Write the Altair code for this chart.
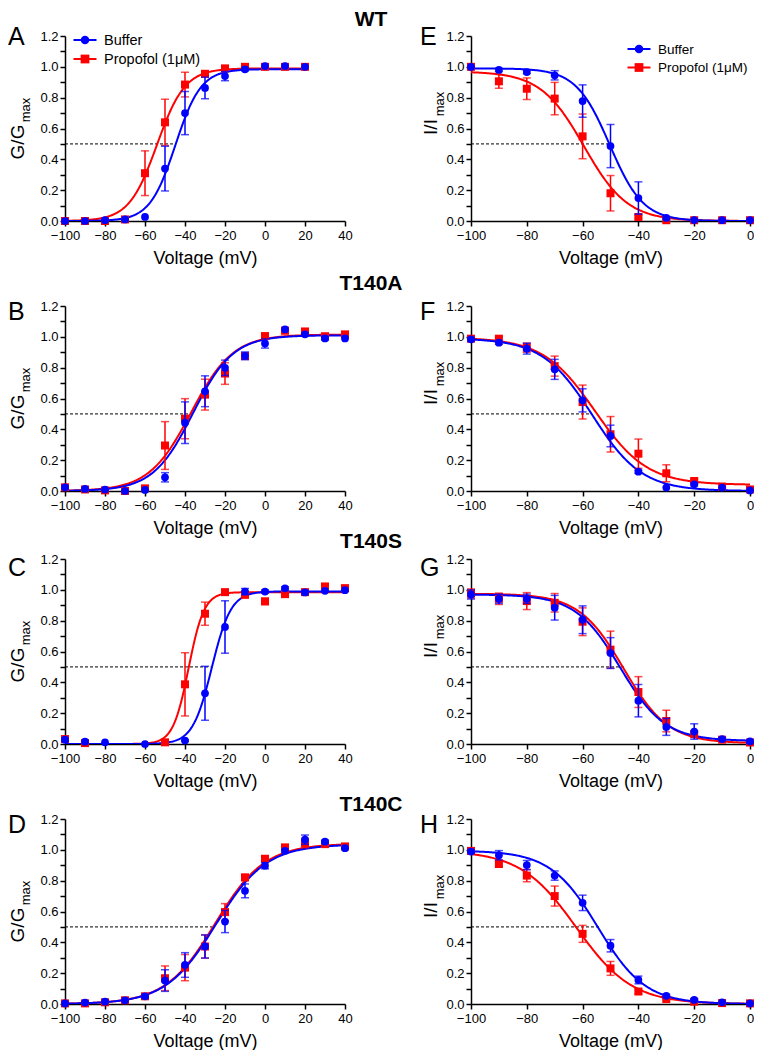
import altair as alt
import numpy as np
import pandas as pd

FONT = "Liberation Sans"
SERIES = ["Buffer", "Propofol (1μM)"]
COLORS = ["#0000ff", "#ff0000"]

# ---------------- data ----------------
V_ACT = [-100, -90, -80, -70, -60, -50, -40, -30, -20, -10, 0, 10, 20, 30, 40]
V_WT_ACT = [-100, -90, -80, -70, -60, -50, -40, -30, -20, -10, 0, 10, 20]
V_INACT = [-100, -90, -80, -70, -60, -50, -40, -30, -20, -10, 0]

# A  WT activation
A_buf = [0.0, 0.0, 0.005, 0.01, 0.026, 0.34, 0.70, 0.863, 0.94, 0.984, 1.005, 1.005, 1.0]
A_buf_err = [0, 0, 0, 0, 0, 0.145, 0.14, 0.07, 0.03, 0.01, 0, 0, 0]
A_pro = [0.0, 0.0, 0.0, 0.01, 0.31, 0.64, 0.885, 0.955, 0.99, 1.0, 1.0, 1.0, 1.0]
A_pro_err = [0, 0, 0, 0, 0.145, 0.15, 0.08, 0.015, 0.01, 0, 0, 0, 0]
# E  WT inactivation
E_buf = [0.999, 0.98, 0.966, 0.945, 0.778, 0.486, 0.149, 0.02, 0.006, 0.005, 0.005]
E_buf_err = [0, 0.01, 0.01, 0.03, 0.105, 0.14, 0.105, 0.01, 0, 0, 0]
E_pro = [1.0, 0.906, 0.858, 0.794, 0.549, 0.18, 0.026, 0.005, 0.005, 0.005, 0.005]
E_pro_err = [0, 0.045, 0.07, 0.105, 0.145, 0.115, 0.01, 0, 0, 0, 0]
# B  T140A activation
B_buf = [0.024, 0.013, 0.009, 0.0, 0.007, 0.089, 0.443, 0.647, 0.799, 0.877, 0.957, 1.048, 1.016, 0.99, 0.99]
B_buf_err = [0.01, 0, 0, 0, 0, 0.03, 0.135, 0.1, 0.05, 0.025, 0.03, 0, 0.01, 0.01, 0]
B_pro = [0.024, 0.01, 0.004, 0.0, 0.017, 0.295, 0.469, 0.625, 0.762, 0.875, 1.005, 1.04, 1.035, 1.004, 1.016]
B_pro_err = [0, 0, 0, 0, 0.01, 0.155, 0.13, 0.1, 0.07, 0.02, 0.01, 0.02, 0.01, 0, 0]
# F  T140A inactivation
F_buf = [0.984, 0.962, 0.923, 0.789, 0.588, 0.357, 0.125, 0.022, 0.043, 0.022, 0.004]
F_buf_err = [0.01, 0.01, 0.035, 0.065, 0.075, 0.07, 0.01, 0, 0.01, 0, 0]
F_pro = [0.988, 0.988, 0.93, 0.81, 0.577, 0.368, 0.242, 0.115, 0.065, 0.028, 0.01]
F_pro_err = [0.01, 0.01, 0.03, 0.065, 0.11, 0.115, 0.095, 0.055, 0.01, 0, 0]
# C  T140S activation
C_buf = [0.028, 0.015, 0.011, None, 0.0, None, 0.022, 0.329, 0.759, 0.989, 0.989, 1.01, 0.983, 0.994, 0.998]
C_buf_err = [0.01, 0, 0, None, 0, None, 0.005, 0.175, 0.17, 0.02, 0.01, 0.01, 0.01, 0, 0]
C_pro = [0.032, 0.006, None, None, None, 0.011, 0.387, 0.845, 0.985, 0.968, 0.925, 0.972, 0.985, 1.022, 1.011]
C_pro_err = [0.01, 0, None, None, None, 0.01, 0.205, 0.075, 0.01, 0.02, 0.02, 0.015, 0.01, 0.01, 0.01]
# G  T140S inactivation
G_buf = [0.97, 0.942, 0.942, 0.884, 0.806, 0.59, 0.281, 0.111, 0.081, 0.032, 0.017]
G_buf_err = [0.03, 0.03, 0.03, 0.08, 0.09, 0.1, 0.105, 0.055, 0.05, 0.01, 0.01]
G_pro = [0.976, 0.942, 0.927, 0.916, 0.793, 0.612, 0.337, 0.149, 0.064, 0.028, 0.01]
G_pro_err = [0.03, 0.037, 0.055, 0.06, 0.09, 0.12, 0.1, 0.07, 0.015, 0.005, 0.005]
# D  T140C activation
D_buf = [0.004, 0.009, 0.015, 0.024, 0.05, 0.152, 0.253, 0.373, 0.535, 0.734, 0.897, 0.994, 1.066, 1.053, 1.011]
D_buf_err = [0, 0, 0, 0, 0.01, 0.07, 0.08, 0.075, 0.072, 0.045, 0.02, 0.01, 0.03, 0.01, 0]
D_pro = [0.004, 0.004, 0.011, 0.024, 0.05, 0.167, 0.236, 0.373, 0.596, 0.821, 0.942, 1.016, 1.044, 1.037, 1.022]
D_pro_err = [0, 0, 0, 0, 0.01, 0.08, 0.085, 0.075, 0.055, 0.02, 0.02, 0.01, 0.03, 0.015, 0.01]
# H  T140C inactivation
H_buf = [0.989, 0.965, 0.901, 0.833, 0.656, 0.378, 0.156, 0.053, 0.026, 0.011, 0.004]
H_buf_err = [0.01, 0.03, 0.03, 0.03, 0.05, 0.04, 0.025, 0.01, 0.005, 0, 0]
H_pro = [0.993, 0.908, 0.833, 0.70, 0.455, 0.231, 0.081, 0.032, 0.015, 0.006, 0.004]
H_pro_err = [0, 0.015, 0.04, 0.065, 0.055, 0.045, 0.015, 0.005, 0, 0, 0]

# Boltzmann fit parameters: (V1/2, slope, top, bottom)
FIT_A = [(-44.8, -6.4, 0.985, 0.0), (-54.0, -7.0, 0.99, 0.0)]
FIT_E = [(-50.3, 6.0, 0.99, 0.0), (-59.5, 7.8, 0.97, 0.0)]
FIT_B = [(-36.0, -10.0, 1.01, 0.0), (-37.0, -10.5, 1.015, 0.0)]
FIT_F = [(-56.6, 8.9, 0.99, 0.0), (-55.5, 9.3, 0.995, 0.04)]
FIT_C = [(-26.6, -4.8, 0.99, 0.0), (-38.2, -3.9, 0.985, 0.0)]
FIT_G = [(-46.5, 8.0, 0.97, 0.02), (-45.3, 8.0, 0.975, 0.005)]
FIT_D = [(-24.5, -12.5, 1.035, 0.0), (-25.0, -12.4, 1.04, 0.0)]
FIT_H = [(-54.5, 8.5, 0.995, 0.0), (-62.3, 10.0, 0.995, 0.0)]

DASH_END = {"A": -44.7, "B": -36.6, "C": -27.3, "D": -26.5,
            "E": -50.0, "F": -56.8, "G": -45.2, "H": -53.8}

ROW_TITLES = ["WT", "T140A", "T140S", "T140C"]
ACT_TICKS = [-100, -80, -60, -40, -20, 0, 20, 40]
INACT_TICKS = [-100, -80, -60, -40, -20, 0]
Y_TICKS = [0.0, 0.1, 0.2, 0.3, 0.4, 0.5, 0.6, 0.7, 0.8, 0.9, 1.0, 1.1, 1.2]

SHAPES = {SERIES[0]: ("circle", 60), SERIES[1]: ("square", 64)}

H = 185
ROW_GAPS = [85, 68, 75]
LETTER_DY = [9, 13.5, 16.5, 14]
ROW_TITLE_DY = [-10, -16, -11, -8]


def make_panel(V, buf, buf_err, pro, pro_err, fits, letter, x_domain, x_ticks,
               width, left, row, legend_at=None):
    rows = []
    for s, vals, errs in ((SERIES[0], buf, buf_err), (SERIES[1], pro, pro_err)):
        for v, y, e in zip(V, vals, errs):
            if y is None:
                continue
            e = e or 0
            rows.append(dict(V=v, val=y, err=e, lo=y - e, hi=y + e, series=s))
    pts = pd.DataFrame(rows)

    grid = np.linspace(min(V), max(V), 300)
    crows = []
    for s, (vh, k, top, bot) in zip(SERIES, fits):
        c = bot + (top - bot) / (1 + np.exp((grid - vh) / k))
        crows += [dict(V=float(g), val=float(y), series=s) for g, y in zip(grid, c)]
    curves = pd.DataFrame(crows)

    xs = alt.Scale(domain=x_domain, nice=False, zero=False)
    ys = alt.Scale(domain=[0, 1.2], nice=False, zero=False)
    cs = alt.Scale(domain=SERIES, range=COLORS)
    ax_common = dict(domainColor="black", domainWidth=1.5, tickColor="black", tickWidth=1.5,
                     tickSize=5, labelColor="black", labelFont=FONT, labelFontSize=13,
                     grid=False, labelOverlap=False, labelFlush=False)
    xaxis = alt.Axis(values=x_ticks, title="Voltage (mV)", titleY=42, titleBaseline="alphabetic",
                     titleFont=FONT, titleFontSize=18, titleFontWeight="normal", titleColor="black",
                     labelPadding=3, **ax_common)
    yaxis = alt.Axis(values=Y_TICKS, title=None, labelPadding=2,
                     labelExpr="(round(datum.value*10) % 2 == 0) ? format(datum.value, '.1f') : ''",
                     **ax_common)
    X = alt.X("V:Q", scale=xs, axis=xaxis)
    Y = alt.Y("val:Q", scale=ys, axis=yaxis)
    col = alt.Color("series:N", scale=cs, legend=None)

    layers = []
    dash = pd.DataFrame({"x0": [x_domain[0]], "x1": [DASH_END[letter]], "y0": [0.5]})
    layers.append(alt.Chart(dash).mark_rule(color="black", strokeDash=[3, 2], strokeWidth=1).encode(
        x=alt.X("x0:Q", scale=xs, axis=xaxis), x2="x1:Q", y=alt.Y("y0:Q", scale=ys, axis=yaxis)))
    for s in (SERIES[1], SERIES[0]):
        layers.append(alt.Chart(curves[curves.series == s]).mark_line(strokeWidth=2, clip=True).encode(
            x=X, y=Y, color=col))
    for s in (SERIES[1], SERIES[0]):
        shape, size = SHAPES[s]
        e = pts[(pts.series == s) & (pts.err > 0)]
        layers.append(alt.Chart(e).mark_rule(strokeWidth=1.5).encode(
            x=X, y=alt.Y("lo:Q", scale=ys, axis=yaxis), y2="hi:Q", color=col))
        for fld in ("lo", "hi"):
            layers.append(alt.Chart(e).mark_tick(orient="horizontal", size=8, thickness=1.5).encode(
                x=X, y=alt.Y(f"{fld}:Q", scale=ys, axis=yaxis), color=col))
        layers.append(alt.Chart(pts[pts.series == s]).mark_point(
            filled=True, shape=shape, size=size, opacity=1).encode(x=X, y=Y, color=col))

    # legend (line + marker + label), coloured through the same colour scale
    if legend_at is not None:
        cx, y0, dy, fs = legend_at
        for i, s in enumerate(SERIES):
            shape, size = SHAPES[s]
            d = pd.DataFrame({"series": [s]})
            ly = y0 + i * dy
            layers.append(alt.Chart(d).mark_rule(strokeWidth=2).encode(
                x=alt.value(cx - 11.5), x2=alt.value(cx + 11.5), y=alt.value(ly), color=col))
            layers.append(alt.Chart(d).mark_point(filled=True, shape=shape, size=size * 1.2, opacity=1).encode(
                x=alt.value(cx), y=alt.value(ly), color=col))
            layers.append(alt.Chart(d).mark_text(
                align="left", baseline="middle", fontSize=fs, font=FONT, color="black").encode(
                x=alt.value(cx + 19), y=alt.value(ly + 0.5), text="series:N"))

    # panel letter
    one = lambda t: pd.DataFrame({"t": [t]})
    layers.append(alt.Chart(one(letter)).mark_text(
        align="left", baseline="alphabetic", fontSize=25, font=FONT, color="black").encode(
        text="t:N", x=alt.value(-57 if left else -51), y=alt.value(LETTER_DY[row])))
    # y title with subscript
    main, sub = ("G/G", "max") if left else ("I/I", "max")
    mx, my, sx, sy = (-41, 106, -35, 74) if left else (-34, 91, -27.5, 68)
    layers.append(alt.Chart(one(main)).mark_text(
        angle=270, align="center", baseline="alphabetic", fontSize=19, font=FONT, color="black").encode(
        text="t:N", x=alt.value(mx), y=alt.value(my)))
    layers.append(alt.Chart(one(sub)).mark_text(
        angle=270, align="center", baseline="alphabetic", fontSize=13, font=FONT, color="black").encode(
        text="t:N", x=alt.value(sx), y=alt.value(sy)))
    if not left:
        layers.append(alt.Chart(one(ROW_TITLES[row])).mark_text(
            align="center", baseline="alphabetic", fontSize=21, fontWeight="bold", font=FONT,
            color="black").encode(text="t:N", x=alt.value(-100), y=alt.value(ROW_TITLE_DY[row])))

    return alt.layer(*layers).properties(width=width, height=H)


def spacer(h):
    return alt.Chart(pd.DataFrame({"s": [0]})).mark_point(opacity=0).encode(
        x=alt.value(0), y=alt.value(0)).properties(width=1, height=h)


LW, RW = 280, 279
ACT_DOM, INACT_DOM = [-100, 40], [-100, 0]

pA = make_panel(V_WT_ACT, A_buf, A_buf_err, A_pro, A_pro_err, FIT_A, "A", ACT_DOM, ACT_TICKS, LW, True, 0,
                legend_at=(20, 4, 19, 14.5))
pE = make_panel(V_INACT, E_buf, E_buf_err, E_pro, E_pro_err, FIT_E, "E", INACT_DOM, INACT_TICKS, RW, False, 0,
                legend_at=(168, 13, 18.5, 13.5))
pB = make_panel(V_ACT, B_buf, B_buf_err, B_pro, B_pro_err, FIT_B, "B", ACT_DOM, ACT_TICKS, LW, True, 1)
pF = make_panel(V_INACT, F_buf, F_buf_err, F_pro, F_pro_err, FIT_F, "F", INACT_DOM, INACT_TICKS, RW, False, 1)
pC = make_panel(V_ACT, C_buf, C_buf_err, C_pro, C_pro_err, FIT_C, "C", ACT_DOM, ACT_TICKS, LW, True, 2)
pG = make_panel(V_INACT, G_buf, G_buf_err, G_pro, G_pro_err, FIT_G, "G", INACT_DOM, INACT_TICKS, RW, False, 2)
pD = make_panel(V_ACT, D_buf, D_buf_err, D_pro, D_pro_err, FIT_D, "D", ACT_DOM, ACT_TICKS, LW, True, 3)
pH = make_panel(V_INACT, H_buf, H_buf_err, H_pro, H_pro_err, FIT_H, "H", INACT_DOM, INACT_TICKS, RW, False, 3)

cells = [pA, pE, spacer(ROW_GAPS[0]), spacer(ROW_GAPS[0]),
         pB, pF, spacer(ROW_GAPS[1]), spacer(ROW_GAPS[1]),
         pC, pG, spacer(ROW_GAPS[2]), spacer(ROW_GAPS[2]),
         pD, pH]

chart = alt.concat(*cells, columns=2, spacing={"row": 0, "column": 126}, bounds="flush").properties(
    padding={"top": 1, "left": 0, "right": 0, "bottom": 0}).configure_view(stroke=None)

chart.save("out.html", embed_options={"renderer": "svg", "actions": False})
